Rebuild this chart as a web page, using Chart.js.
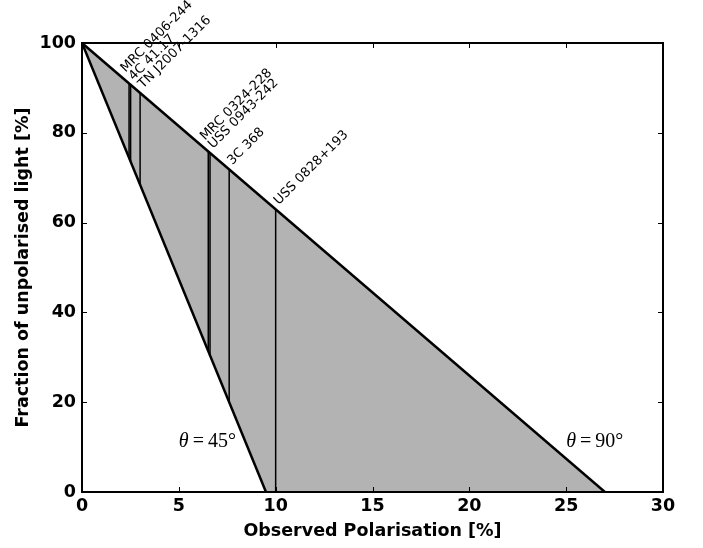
<!DOCTYPE html>
<html>
<head>
<meta charset="utf-8">
<script src="https://cdn.jsdelivr.net/npm/chart.js@4.4.0/dist/chart.umd.min.js"></script>
<style>
  html, body { margin: 0; padding: 0; background: #fff; }
  canvas { display: block; }
</style>
</head>
<body>
<canvas id="polChart" width="703" height="548"></canvas>
<script>
// Sources and their observed polarisation [%]
const sourceNames = ['MRC 0406-244', '4C 41.17', 'TN J2007-1316', 'MRC 0324-228', 'USS 0943-242', '3C 368', 'USS 0828+193'];
const sourcePolarisation = [2.43, 2.51, 3.0, 6.52, 6.61, 7.6, 10.0];
// Fraction of unpolarised light where each source line meets the two edges
const sourceTop = [91.0, 90.7, 88.9, 75.9, 75.5, 71.9, 63.0];
const sourceBottom = [74.4, 73.6, 68.4, 31.4, 30.4, 20.0, 0];

// Edges of the allowed region (theta = 90 and theta = 45)
const edge90 = [{ x: 0, y: 100 }, { x: 27, y: 0 }];
const edge45 = [{ x: 0, y: 100 }, { x: 9.5, y: 0 }];

// Angle annotations (data coordinates)
const angleText = ['45°', '90°'];
const angleX = [5, 25];
const angleY = [10, 10];

// Axis ticks
const xTickValues = [0, 5, 10, 15, 20, 25, 30];
const yTickValues = [0, 20, 40, 60, 80, 100];

const boldFont = { family: 'DejaVu Sans', size: 17.5, weight: 'bold' };

/**
 * Frame, inward ticks and text annotations
 */
const decorPlugin = {
    id: 'decor',
    afterDatasetsDraw(chart) {
        const { ctx, chartArea: a, scales: { x, y } } = chart;
        ctx.save();

        // source labels, rotated 45 degrees, pushed apart where they crowd
        const items = sourceNames.map((name, i) => ({
            name: name,
            px: x.getPixelForValue(sourcePolarisation[i]) + 3,
            py: y.getPixelForValue(sourceTop[i]) - 4
        }));
        const gap = 11.5;
        for (let i = items.length - 2; i >= 0; i--) {
            const cur = items[i], next = items[i + 1];
            const d = ((next.px + next.py) - (cur.px + cur.py)) * Math.SQRT1_2;
            if (d < gap) {
                const shift = (gap - d) * Math.SQRT1_2;
                cur.px -= shift;
                cur.py -= shift;
            }
        }
        ctx.fillStyle = '#000';
        ctx.font = '13px "DejaVu Sans"';
        ctx.textAlign = 'left';
        ctx.textBaseline = 'alphabetic';
        items.forEach(it => {
            ctx.save();
            ctx.translate(it.px, it.py);
            ctx.rotate(-Math.PI / 4);
            ctx.fillText(it.name, 0, 0);
            ctx.restore();
        });

        // theta annotations
        angleText.forEach((t, i) => {
            const px = x.getPixelForValue(angleX[i]);
            const py = y.getPixelForValue(angleY[i]);
            ctx.font = 'italic 20px "Liberation Serif"';
            ctx.fillText('\u03b8', px, py);
            const w = ctx.measureText('\u03b8').width;
            ctx.font = '20px "Liberation Serif"';
            ctx.fillText('\u2009=\u2009' + t, px + w, py);
        });

        // inward tick marks on all four sides
        ctx.strokeStyle = '#000';
        ctx.lineWidth = 1;
        ctx.beginPath();
        xTickValues.forEach(v => {
            const px = Math.round(x.getPixelForValue(v)) + 0.5;
            ctx.moveTo(px, a.bottom); ctx.lineTo(px, a.bottom - 5);
            ctx.moveTo(px, a.top); ctx.lineTo(px, a.top + 5);
        });
        yTickValues.forEach(v => {
            const py = Math.round(y.getPixelForValue(v)) + 0.5;
            ctx.moveTo(a.left, py); ctx.lineTo(a.left + 5, py);
            ctx.moveTo(a.right, py); ctx.lineTo(a.right - 5, py);
        });
        ctx.stroke();

        // frame
        ctx.lineWidth = 2;
        ctx.strokeRect(a.left, a.top, a.right - a.left, a.bottom - a.top);
        ctx.restore();
    }
};

const datasets = [];

// edges of the region
[edge90, edge45].forEach(edge => {
    datasets.push({
        data: edge,
        showLine: true,
        borderColor: '#000',
        borderWidth: 2.5,
        pointRadius: 0,
        order: 1
    });
});

// one vertical line per source
sourcePolarisation.forEach((p, i) => {
    datasets.push({
        data: [{ x: p, y: sourceTop[i] }, { x: p, y: sourceBottom[i] }],
        showLine: true,
        borderColor: '#000',
        borderWidth: 1.5,
        pointRadius: 0,
        order: 2
    });
});

// grey allowed region
datasets.push({
    data: [edge90[0], edge90[1], edge45[1], edge45[0]],
    showLine: true,
    fill: 'shape',
    backgroundColor: '#b3b3b3',
    borderWidth: 0,
    pointRadius: 0,
    order: 3
});

new Chart(document.getElementById('polChart'), {
    type: 'scatter',
    data: { datasets: datasets },
    plugins: [decorPlugin],
    options: {
        responsive: false,
        animation: false,
        layout: { padding: { top: 43, right: 40, left: 0, bottom: 0 } },
        plugins: {
            legend: { display: false },
            tooltip: { enabled: false }
        },
        scales: {
            x: {
                type: 'linear',
                min: 0,
                max: 30,
                afterBuildTicks: s => { s.ticks = xTickValues.map(v => ({ value: v })); },
                afterFit: s => { s.height = 56; },
                grid: { display: false, drawTicks: false },
                border: { display: false },
                ticks: { color: '#000', font: boldFont, padding: 4, maxRotation: 0 },
                title: {
                    display: true,
                    text: 'Observed Polarisation [%]',
                    color: '#000',
                    font: boldFont,
                    padding: { top: 0, bottom: 6 }
                }
            },
            y: {
                type: 'linear',
                min: 0,
                max: 100,
                afterBuildTicks: s => { s.ticks = yTickValues.map(v => ({ value: v })); },
                afterFit: s => { s.width = 82; },
                grid: { display: false, drawTicks: false },
                border: { display: false },
                ticks: { color: '#000', font: boldFont, padding: 6 },
                title: {
                    display: true,
                    text: 'Fraction of unpolarised light [%]',
                    color: '#000',
                    font: boldFont,
                    padding: { top: 13, bottom: 0 }
                }
            }
        }
    }
});
</script>
</body>
</html>
